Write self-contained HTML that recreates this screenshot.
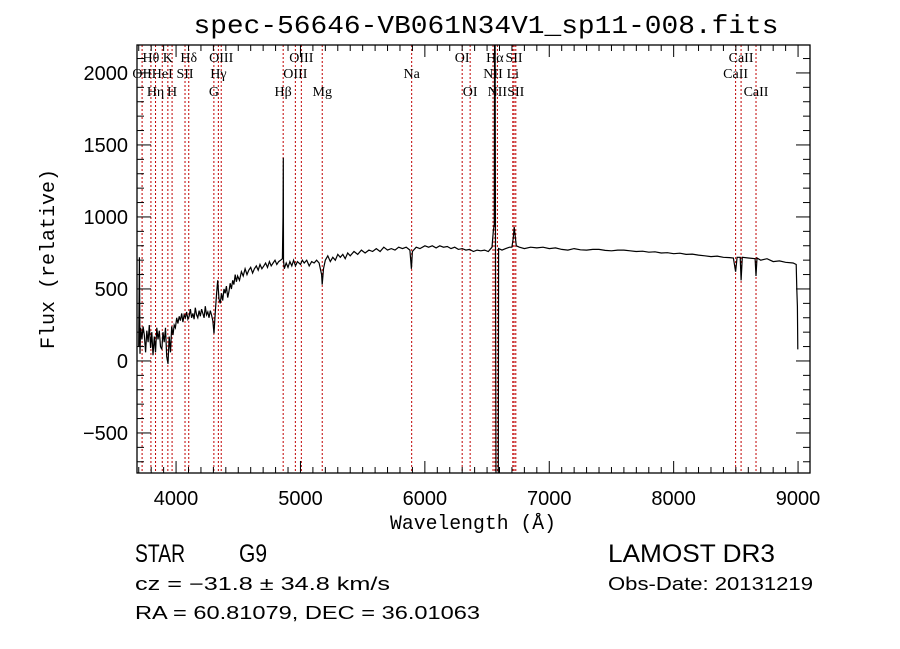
<!DOCTYPE html>
<html><head><meta charset="utf-8">
<style>
html,body{margin:0;padding:0;background:#fff;}
svg{display:block;}
</style></head>
<body>
<svg id="chart" width="900" height="649" viewBox="0 0 900 649" xmlns="http://www.w3.org/2000/svg">
  <rect width="900" height="649" fill="#fff"/>
  <text x="486" y="33" text-anchor="middle" font-family="Liberation Mono, monospace" font-size="26" textLength="585" lengthAdjust="spacingAndGlyphs">spec-56646-VB061N34V1_sp11-008.fits</text>
  <g id="lines"></g>
  <g id="labels" font-family="Liberation Serif, serif" font-size="14"></g>
  <clipPath id="clip"><rect x="137" y="45" width="673" height="428"/></clipPath>
  <path id="spec" fill="none" stroke="#000" stroke-width="1.2" clip-path="url(#clip)"/>
  <g id="axes"></g>
  <text x="473" y="529" text-anchor="middle" font-family="Liberation Mono, monospace" font-size="20" textLength="166" lengthAdjust="spacingAndGlyphs">Wavelength (Å)</text>
  <text transform="translate(54,259) rotate(-90)" text-anchor="middle" font-family="Liberation Mono, monospace" font-size="20" textLength="180" lengthAdjust="spacingAndGlyphs">Flux (relative)</text>
  <g font-family="Liberation Sans, sans-serif" fill="#000">
    <text x="135" y="562" font-size="25" textLength="50" lengthAdjust="spacingAndGlyphs">STAR</text>
    <text x="239" y="562" font-size="25" textLength="28" lengthAdjust="spacingAndGlyphs">G9</text>
    <text x="608" y="562" font-size="25" textLength="167" lengthAdjust="spacingAndGlyphs">LAMOST DR3</text>
    <text x="135" y="590" font-size="18" textLength="255" lengthAdjust="spacingAndGlyphs">cz = −31.8 ± 34.8 km/s</text>
    <text x="608" y="590" font-size="18" textLength="205" lengthAdjust="spacingAndGlyphs">Obs-Date: 20131219</text>
    <text x="135" y="619" font-size="18" textLength="345" lengthAdjust="spacingAndGlyphs">RA =  60.81079, DEC =  36.01063</text>
  </g>
</svg>
<script>
const wl = [3700,3705,3710,3715,3725,3735,3745,3755,3765,3775,3785,3795,3805,3815,3825,3835,3845,3855,3865,3875,3885,3895,3905,3915,3925,3935,3945,3955,3965,3975,3985,3995,4005,4015,4025,4035,4045,4055,4065,4075,4085,4095,4105,4115,4125,4135,4145,4155,4165,4175,4185,4195,4205,4215,4225,4235,4245,4255,4265,4275,4285,4295,4305,4315,4325,4335,4345,4355,4365,4375,4385,4395,4405,4415,4425,4435,4445,4455,4465,4475,4485,4495,4510,4525,4540,4555,4570,4585,4600,4615,4630,4645,4660,4675,4690,4705,4720,4735,4750,4765,4780,4795,4810,4825,4840,4855,4860,4862,4864,4870,4885,4900,4915,4930,4945,4960,4975,5000,5015,5030,5050,5070,5090,5110,5130,5150,5170,5175,5185,5200,5220,5240,5260,5280,5300,5320,5340,5360,5380,5400,5430,5460,5490,5520,5550,5580,5610,5640,5670,5700,5730,5760,5790,5820,5850,5880,5892,5900,5930,5960,6000,6030,6060,6090,6120,6150,6180,6210,6240,6270,6300,6330,6360,6390,6420,6450,6480,6510,6540,6550,6558,6561,6565,6569,6572,6590,6593,6620,6650,6680,6700,6710,6718,6725,6735,6760,6800,6850,6900,6950,7000,7050,7100,7150,7200,7250,7300,7350,7400,7450,7500,7550,7600,7650,7700,7750,7800,7850,7900,7950,8000,8050,8100,8150,8200,8250,8300,8350,8400,8450,8480,8498,8510,8535,8542,8552,8600,8655,8662,8670,8700,8750,8800,8850,8900,8960,8985,8990,8995,8998];
const flux = [100,720,50,230,150,240,180,60,210,130,250,90,200,40,170,60,230,150,210,100,80,200,130,230,30,-20,170,60,240,180,250,230,300,260,310,280,330,270,320,300,340,290,310,360,300,330,290,370,320,300,350,310,360,330,300,380,320,340,300,350,320,280,190,330,460,560,430,400,470,420,500,470,520,440,480,540,500,560,530,600,550,590,560,620,590,640,600,630,650,610,640,660,630,670,640,660,680,650,690,660,680,700,670,690,700,710,1000,1410,700,640,680,650,690,660,700,660,690,670,700,680,700,660,690,680,700,680,600,530,640,700,730,690,720,700,740,720,740,710,750,730,760,740,770,750,770,760,780,760,790,770,780,770,790,780,790,770,640,760,790,780,800,790,800,785,800,790,795,780,790,775,780,770,775,760,770,765,770,760,790,900,950,2300,2300,330,-850,-850,780,770,780,790,790,850,930,880,800,790,780,790,785,790,780,785,775,770,780,772,770,775,775,768,765,770,770,765,760,762,755,758,750,752,745,748,740,742,735,730,725,728,720,718,715,620,720,720,560,720,715,710,590,715,700,710,690,695,685,680,670,500,380,80];
const xTicks = [4000,5000,6000,7000,8000,9000];
const yTicks = [-500,0,500,1000,1500,2000];
const lineWl = [3727,3798,3835,3889,3934,3968,4072,4102,4304,4340,4363,4861,4959,5007,5175,5894,6300,6364,6548,6563,6583,6707,6717,6731,8498,8542,8662];
const lineName = ['OII','Hθ','Hη','HeI','K','H','SII','Hδ','G','Hγ','OIII','Hβ','OIII','OIII','Mg','Na','OI','OI','NII','Hα','NII','Li','SII','SII','CaII','CaII','CaII'];
const lineRow = [1,0,2,1,0,2,1,0,2,1,0,2,1,0,2,1,0,2,1,0,2,1,0,2,1,0,2];

const X0=137,X1=810,Y0=45,Y1=473;
const WMIN=3686,WMAX=9096,FMIN=-778,FMAX=2194;
function xs(w){return X0+(w-WMIN)/(WMAX-WMIN)*(X1-X0);}
function ys(f){return Y1-(f-FMIN)/(FMAX-FMIN)*(Y1-Y0);}
const NS='http://www.w3.org/2000/svg';
function mk(tag,attrs,parent){const e=document.createElementNS(NS,tag);for(const k in attrs)e.setAttribute(k,attrs[k]);parent.appendChild(e);return e;}

let d='';
for(let i=0;i<wl.length;i++){d+=(i?'L':'M')+xs(wl[i]).toFixed(1)+','+ys(flux[i]).toFixed(1);}
document.getElementById('spec').setAttribute('d',d);

const lg=document.getElementById('lines'), lb=document.getElementById('labels');
const rowY=[62,78,96];
for(let i=0;i<lineWl.length;i++){
  const x=xs(lineWl[i]);
  const l=mk('line',{x1:x,x2:x,y1:Y0,y2:Y1,stroke:'#c00000','stroke-width':1,'stroke-dasharray':'2,2'},lg);
  
  
  const t=mk('text',{x:x,y:rowY[lineRow[i]],'text-anchor':'middle'},lb);
  t.textContent=lineName[i];
  
  
}

const ax=document.getElementById('axes');
const fr=mk('rect',{x:X0,y:Y0,width:X1-X0,height:Y1-Y0,fill:'none',stroke:'#000','stroke-width':1.3},ax);


for(let w=3700;w<=9000;w+=100){
  const x=xs(w), major=(w%1000===0), len=major?12:6;
  mk('line',{x1:x,x2:x,y1:Y1,y2:Y1-len,stroke:'#000','stroke-width':1},ax);
  mk('line',{x1:x,x2:x,y1:Y0,y2:Y0+len,stroke:'#000','stroke-width':1},ax);
}
for(let f=-700;f<=2100;f+=100){
  const y=ys(f), major=(f%500===0), len=major?14:7;
  mk('line',{x1:X0,x2:X0+len,y1:y,y2:y,stroke:'#000','stroke-width':1},ax);
  mk('line',{x1:X1,x2:X1-len,y1:y,y2:y,stroke:'#000','stroke-width':1},ax);
}
for(const w of xTicks){
  const t=mk('text',{x:xs(w),y:505,'text-anchor':'middle','font-family':'Liberation Sans, sans-serif','font-size':20},ax);
  t.textContent=w;
  
  
}
for(const f of yTicks){
  const t=mk('text',{x:128,y:ys(f)+7,'text-anchor':'end','font-family':'Liberation Sans, sans-serif','font-size':20},ax);
  t.textContent=f<0?'−'+Math.abs(f):f;
  
  
}
</script>
</body></html>
